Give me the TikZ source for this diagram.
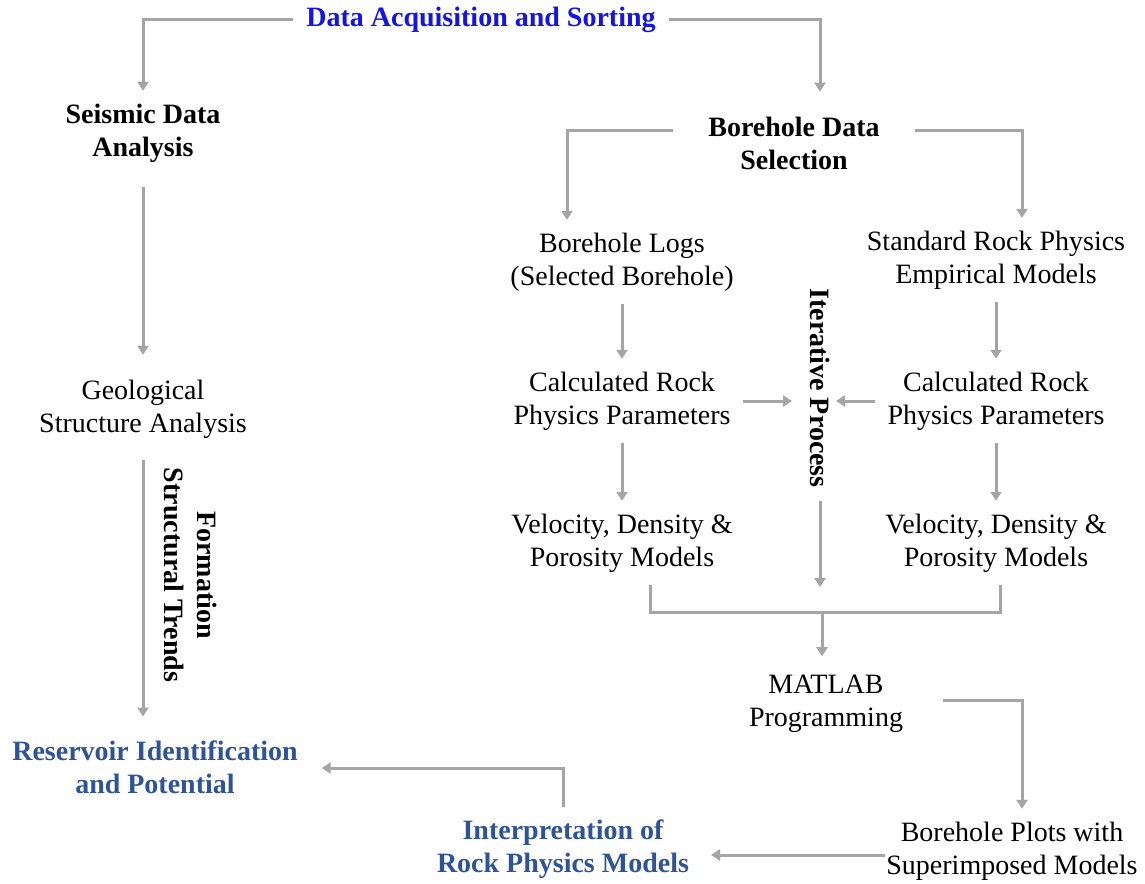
\documentclass[tikz,border=0pt]{standalone}
\usepackage{fontspec}
\setmainfont{Liberation Serif}
\usetikzlibrary{arrows.meta, calc}
\definecolor{titleblue}{RGB}{20,20,230}
\definecolor{resblue}{RGB}{47,84,150}
\definecolor{linegray}{RGB}{165,165,165}
\tikzset{
  txt/.style={align=center, inner sep=1pt, outer sep=12pt, font=\fontsize{28}{33}\selectfont},
  hd/.style={txt, font=\fontsize{28}{33}\selectfont\bfseries},
  ln/.style={line width=3pt, draw=linegray},
  arr/.style={ln, -{Triangle[length=9pt,width=11pt]}}
}
\begin{document}
\begin{tikzpicture}[x=1pt, y=-1pt]
        \useasboundingbox (0,0) rectangle (1145,883);
        \node[hd, text=titleblue] (title) at (481,20) {Data Acquisition and Sorting};
        % left branch
        \node[hd] (seis) at (143,133) {Seismic Data\\Analysis};
        \node[txt] (geo) at (143,409) {Geological\\Structure Analysis};
        \node[hd, rotate=-90] (trend) at (191,575) {Formation\\Structural Trends};
        \node[hd, text=resblue] (res) at (155,767) {Reservoir Identification\\and Potential};
        % right branch
        \node[hd] (bh) at (794,143) {Borehole Data\\Selection};
        \node[txt] (logs) at (622,262) {Borehole Logs\\(Selected Borehole)};
        \node[txt] (emp) at (996,260) {Standard Rock Physics\\Empirical Models};
        \node[txt] (calcL) at (622,401) {Calculated Rock\\Physics Parameters};
        \node[txt] (calcR) at (996,401) {Calculated Rock\\Physics Parameters};
        \node[hd, rotate=-90] (iter) at (820,388) {Iterative Process};
        \node[txt] (velL) at (622,543) {Velocity, Density \&\\Porosity Models};
        \node[txt] (velR) at (996,543) {Velocity, Density \&\\Porosity Models};
        \node[txt] (mat) at (826,704) {MATLAB\\Programming};
        \node[txt] (plots) at (1012,851) {Borehole Plots with\\Superimposed Models};
        \node[hd, text=resblue] (interp) at (563,849) {Interpretation of\\Rock Physics Models};
        \coordinate (join) at (822,612);

        \draw[arr] (title.west) -| (seis.north);
        \draw[arr] (title.east) -| ($(bh.north)+(26,-12)$);
        \draw[arr, shorten <=12pt, shorten >=12pt] (seis) -- (geo);
        \draw[arr, shorten <=9pt, shorten >=11pt] (geo.south) -- (geo.south |- res.north);
        \draw[arr] ($(bh.west)+(-22,-13)$) -| ($(logs.north)+(-55,0)$);
        \draw[arr] ($(bh.east)+(22,-13)$) -| ($(emp.north)+(26,0)$);
        \draw[arr] (logs) -- (calcL);
        \draw[arr] (emp) -- (calcR);
        \draw[arr] (calcL) -- (velL);
        \draw[arr] (calcR) -- (velR);
        \draw[arr] (calcL.east) -- ($(calcL.east -| iter.center)+(-28,0)$);
        \draw[arr] (calcR.west) -- ($(calcR.west -| iter.center)+(16,0)$);
        \draw[arr] (iter.east) -- ($(iter.east |- join)+(0,-25)$);
        \draw[ln] ($(velL.south)+(28,0)$) |- (join) -| ($(velR.south)+(4,0)$);
        \draw[arr] (join) -- ($(join |- mat.north)+(0,-6)$);
        \draw[arr] ($(mat.east)+(27,-4)$) -| ($(plots.north)+(10,0)$);
        \draw[arr] ($(plots.west)+(12,4)$) -- ($(plots.west -| interp.east)+(9,4)$);
        \draw[arr] (interp.north) |- ($(res.east)+(11,1)$);
    \end{tikzpicture}
\end{document}
